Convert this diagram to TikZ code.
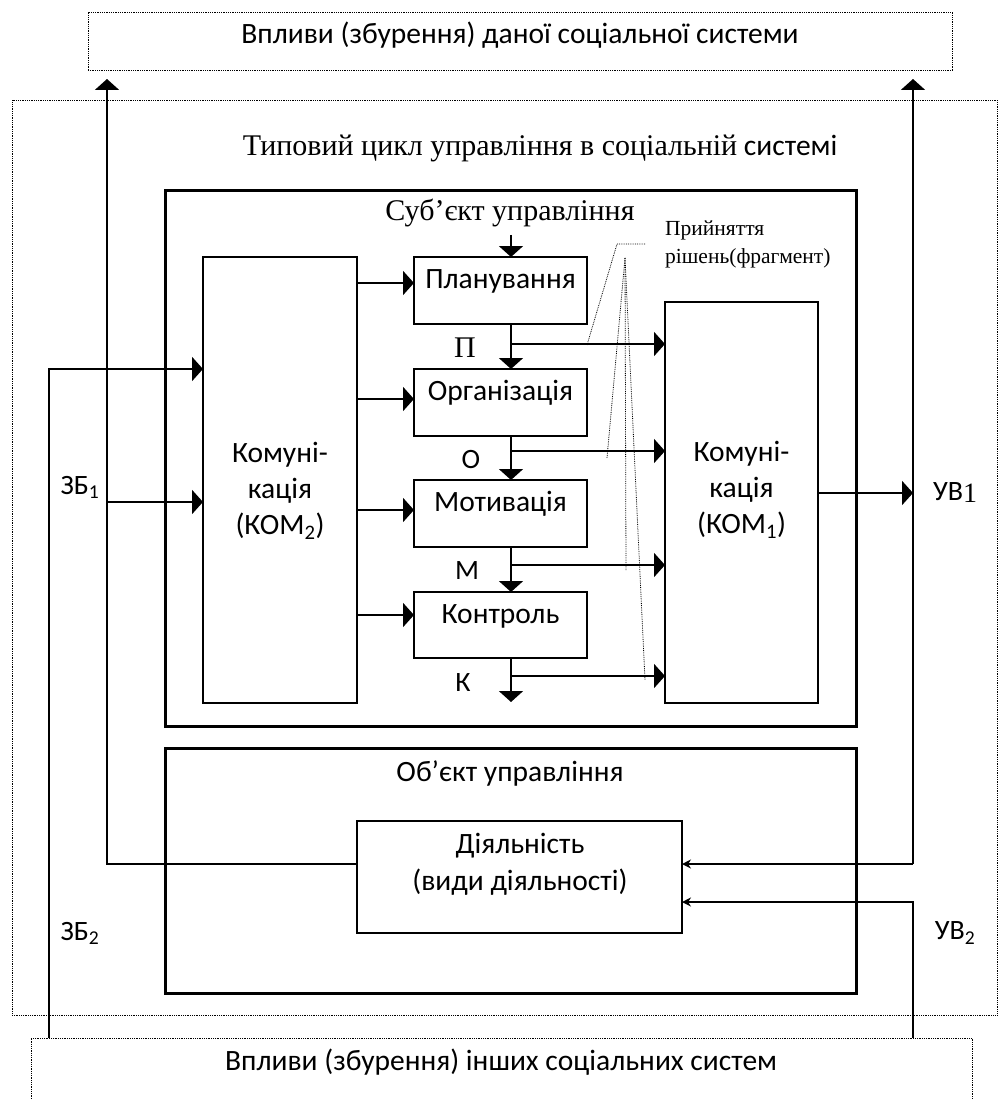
\documentclass[tikz,border=0pt]{standalone}
\usepackage{fontspec}
\setmainfont{Carlito}
\newfontfamily\timesfont{Liberation Serif}
\usetikzlibrary{arrows.meta,positioning}

\tikzset{
  dotbox/.style={draw, densely dotted, line width=0.8pt, inner sep=0pt, outer sep=0pt},
  bigbox/.style={draw, line width=3pt, inner sep=0pt, outer sep=0pt},
  procbox/.style={draw, line width=2.5pt, minimum width=173pt, inner sep=0pt, outer sep=0pt},
  commbox/.style={draw, line width=2pt, inner sep=0pt, outer sep=0pt},
  txt/.style={font=\fontsize{29.5}{36}\selectfont, inner sep=0pt, align=center},
  serif/.style={font=\fontsize{30}{34}\timesfont, inner sep=0pt},
  lbl/.style={font=\fontsize{28}{30}\selectfont, inner sep=0pt},
  flow/.style={line width=2pt, -{Triangle[length=11pt,width=24pt]}},
  thinflow/.style={line width=2pt, -{Stealth[length=9pt,width=9pt]}},
  note/.style={densely dotted, line width=0.8pt},
}

\begin{document}
\begin{tikzpicture}[x=1pt,y=-1pt]
\useasboundingbox (0,0) rectangle (998,1099);

% outer frames
\node[dotbox, minimum width=864pt, minimum height=58pt] (topbox) at (520,41) {};
\node[txt] (toptxt) at (520,35) {Впливи (збурення) даної соціальної системи};
\node[dotbox, minimum width=985pt, minimum height=915pt] (outer) at (504.5,557.5) {};
\node[txt] (title) at (540,148) {{\fontsize{30}{34}\timesfont Типовий цикл управління в соціальній} системі};
\draw[dotbox] (31,1099) -- (31,1038) -- (972,1038) -- (972,1099);
\node[txt] (bottxt) at (501,1062) {Впливи (збурення) інших соціальних систем};

% subject of control
\node[bigbox, minimum width=691pt, minimum height=535pt] (subj) at (510.5,458.5) {};
\node[serif] (subjtxt) at (510,213) {Суб’єкт управління};

\node[commbox, minimum width=154pt, minimum height=446pt] (kom2) at (280,480) {};
\node[txt] (kom2txt) at (280,491) {Комуні-\\кація\\(КОМ\textsubscript{2})};
\node[commbox, minimum width=153pt, minimum height=401pt] (kom1) at (741.5,502.5) {};
\node[txt] (kom1txt) at (741.5,490) {Комуні-\\кація\\(КОМ\textsubscript{1})};

\node[procbox, minimum height=67pt] (plan) at (500.5,290.5) {};
\node[procbox, minimum height=67pt] (org) at (500.5,402.5) {};
\node[procbox, minimum height=67pt] (mot) at (500.5,513.5) {};
\node[procbox, minimum height=66pt] (ctrl) at (500.5,625) {};
\node[txt] (plantxt) at ([yshift=-24pt]plan.north) {Планування};
\node[txt] (orgtxt) at ([yshift=-24pt]org.north) {Організація};
\node[txt] (mottxt) at ([yshift=-24pt]mot.north) {Мотивація};
\node[txt] (ctrltxt) at ([yshift=-24pt]ctrl.north) {Контроль};

\coordinate (sp) at (511,0);
\coordinate (subjin) at (511,235);
\coordinate (ctrlout) at (511,702);
\draw[flow] (subjin) -- (plan.north -| sp);
\draw[flow] (plan.south -| sp) -- (org.north -| sp);
\draw[flow] (org.south -| sp) -- (mot.north -| sp);
\draw[flow] (mot.south -| sp) -- (ctrl.north -| sp);
\draw[flow] (ctrl.south -| sp) -- (ctrlout);

\foreach \b/\y in {plan/283,org/399,mot/510,ctrl/615}
  \draw[flow] (kom2.east |- 0,\y) -- (\b.west |- 0,\y);

\foreach \n/\y in {pP/344,pO/451,pM/565,pK/676}{
  \coordinate (\n) at (511,\y);
  \draw[flow] (\n) -- (\n -| kom1.west);
}
\node[serif] (lP) at (465,348) {П};
\node[lbl] (lO) at (471,460) {О};
\node[lbl] (lM) at (467,571) {М};
\node[lbl] (lK) at (463,683) {К};

% decision making (fragment)
\node[font=\fontsize{21.5}{28}\timesfont, inner sep=0pt, align=left, anchor=west] (dectxt) at (665,244) {Прийняття\\рішень(фрагмент)};
\coordinate (nt1) at (645,244);
\coordinate (nt2) at (617,244);
\coordinate (nt3) at (625,258);
\draw[note] (nt1) -- (nt2) -- (587,345);
\foreach \p in {(607,458),(626,570),(645,680)}
  \draw[note] (nt3) -- \p;

% object of control
\node[bigbox, minimum width=691pt, minimum height=245pt] (obj) at (510.5,870.5) {};
\node[txt] (objtxt) at (510,773) {Об’єкт управління};
\node[draw, line width=1.5pt, minimum width=325pt, minimum height=112pt, inner sep=0pt, outer sep=0pt] (act) at (519.5,877) {};
\node[txt, font=\fontsize{29.5}{37}\selectfont] (acttxt) at (520,864.5) {Діяльність\\(види діяльності)};

% feedback and outputs
\coordinate (ltop) at (107,79);
\coordinate (rtop) at (913,79);
\coordinate (rbend) at (913,864);
\coordinate (lbot) at (49,1038);
\coordinate (rbot) at (913,1038);
\coordinate (zb1) at (107,502);
\coordinate (uv1) at (913,493);

\draw[flow] (kom1.east |- uv1) -- (uv1);
\draw[flow] (rbend) -- (rtop);
\draw[thinflow] (rbend) -- (act.east |- rbend);
\draw[thinflow] (rbot) |- (act.east |- 0,902);
\draw[flow] (act.west |- 0,864) -| (ltop);
\draw[flow] (zb1) -- (kom2.west |- zb1);
\draw[flow] (lbot) |- (kom2.west |- 0,369);

\node[lbl] (zb1txt) at (80,487) {ЗБ\textsubscript{1}};
\node[lbl] (zb2txt) at (80,933) {ЗБ\textsubscript{2}};
\node[lbl] (uv1txt) at (955,493) {УВ{\timesfont\raisebox{-2pt}{1}}};
\node[lbl] (uv2txt) at (955,933) {УВ\textsubscript{2}};
\end{tikzpicture}
\end{document}
